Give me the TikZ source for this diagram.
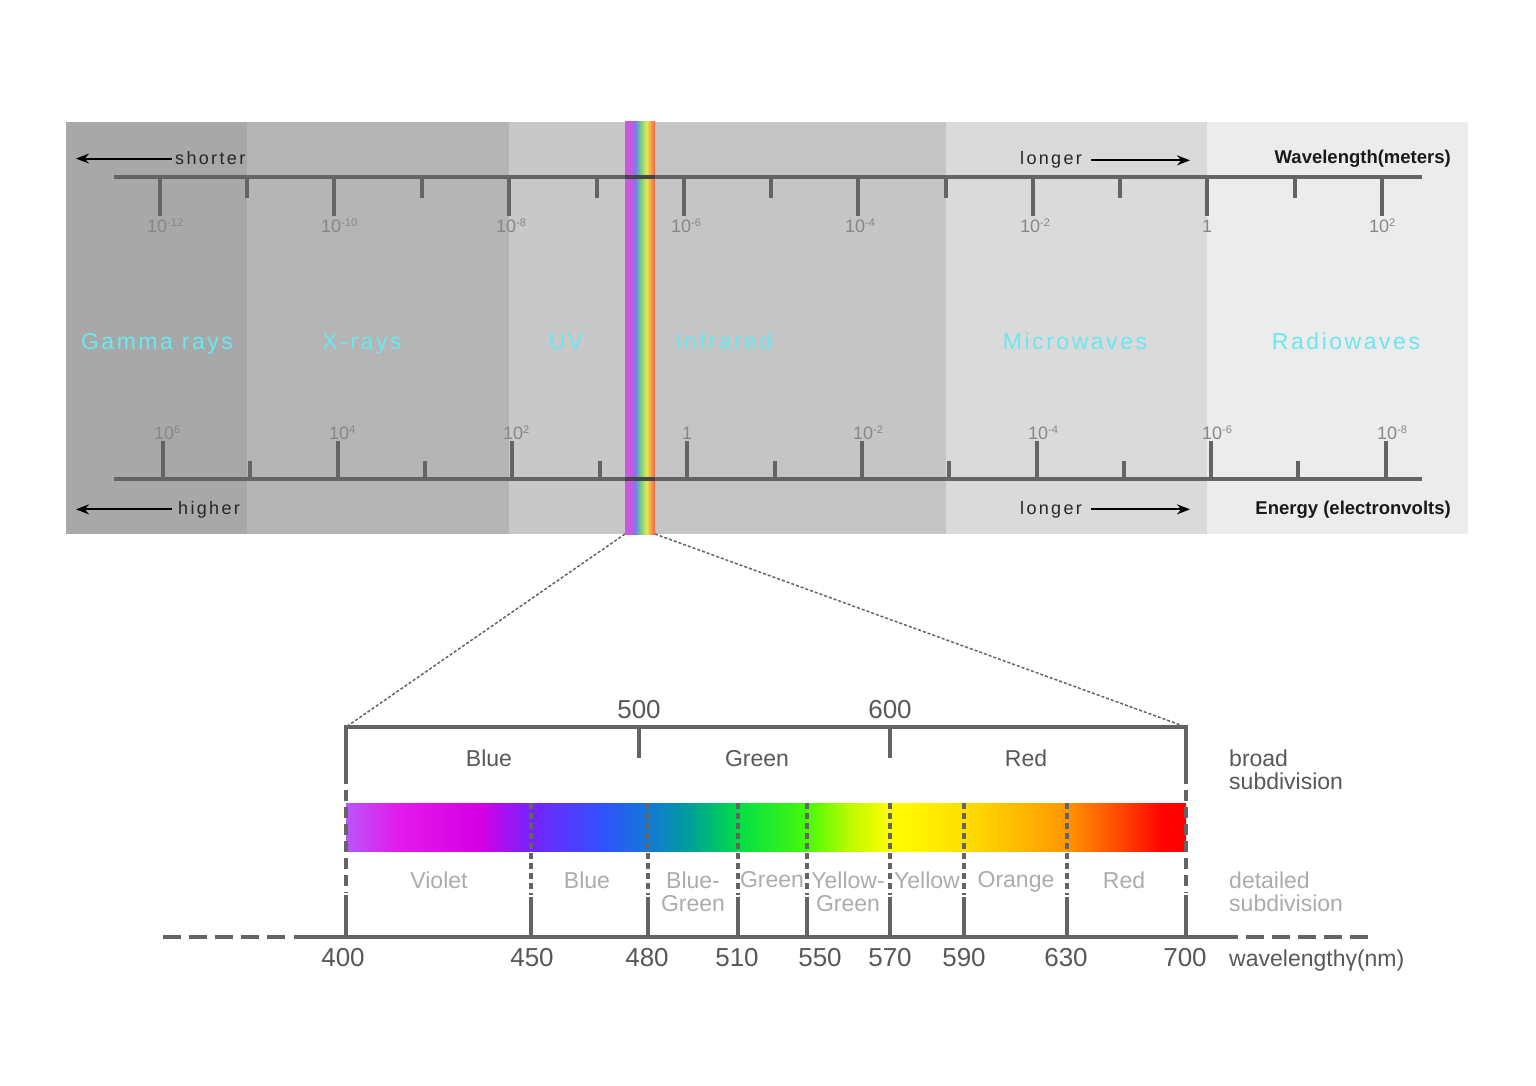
\documentclass[tikz,border=0pt]{standalone}
\usepackage{fontspec}
\setmainfont{Liberation Sans}
\usetikzlibrary{arrows.meta,positioning}
\usepackage{xcolor}
\definecolor{axisgray}{RGB}{100,100,100}
\definecolor{labgray}{RGB}{135,135,135}
\definecolor{textgray}{RGB}{88,88,88}
\definecolor{lightgray}{RGB}{172,172,172}
\definecolor{bandcyan}{RGB}{105,232,240}
\definecolor{gammabg}{RGB}{168,168,168}
\definecolor{xraybg}{RGB}{181,181,181}
\definecolor{uvbg}{RGB}{200,200,200}
\definecolor{irbg}{RGB}{197,197,197}
\definecolor{microbg}{RGB}{218,218,218}
\definecolor{radiobg}{RGB}{236,236,236}
\definecolor{rs1}{RGB}{200,88,225}
\definecolor{rs2}{RGB}{110,130,235}
\definecolor{rs3}{RGB}{120,215,120}
\definecolor{rs4}{RGB}{232,230,85}
\definecolor{rs5}{RGB}{240,160,72}
\definecolor{rs6}{RGB}{235,100,80}
\definecolor{sp1}{RGB}{185,85,250}
\definecolor{sp2}{RGB}{228,25,235}
\definecolor{sp3}{RGB}{212,0,228}
\definecolor{sp4}{RGB}{118,35,250}
\definecolor{sp5}{RGB}{50,80,255}
\definecolor{sp6}{RGB}{20,120,215}
\definecolor{sp7}{RGB}{0,160,150}
\definecolor{sp8}{RGB}{0,222,70}
\definecolor{sp9}{RGB}{70,250,10}
\definecolor{sp10}{RGB}{190,250,0}
\definecolor{sp11}{RGB}{255,255,0}
\definecolor{sp12}{RGB}{255,222,0}
\definecolor{sp13}{RGB}{255,185,0}
\definecolor{sp14}{RGB}{255,150,0}
\definecolor{sp15}{RGB}{255,70,0}
\definecolor{sp16}{RGB}{255,5,0}
\definecolor{sp17}{RGB}{255,0,0}
\pgfdeclarehorizontalshading{rainbowstrip}{100bp}{color(0bp)=(rs1); color(25bp)=(rs1); color(35bp)=(rs1); color(43bp)=(rs2); color(52bp)=(rs3); color(61bp)=(rs4); color(68bp)=(rs5); color(75bp)=(rs6); color(100bp)=(rs6)}
\pgfdeclarehorizontalshading{spectrum}{100bp}{color(0bp)=(sp1); color(25bp)=(sp1); color(28.2bp)=(sp2); color(33bp)=(sp3); color(36bp)=(sp4); color(40.1bp)=(sp5); color(43bp)=(sp6); color(45.5bp)=(sp7); color(48.3bp)=(sp8); color(52.4bp)=(sp9); color(55bp)=(sp10); color(57.4bp)=(sp11); color(61.8bp)=(sp12); color(65.1bp)=(sp13); color(67.9bp)=(sp14); color(71.1bp)=(sp15); color(73.5bp)=(sp16); color(75bp)=(sp17); color(100bp)=(sp17)}
\newcommand{\fsz}[1]{\fontsize{#1}{#1}\selectfont}
\newcommand{\tenpow}[1]{10\raisebox{6pt}{\fsz{11}#1}}

\begin{document}
\begin{tikzpicture}[x=1pt,y=-1pt]
	\tikzset{
		axis_line/.style={draw=axisgray, line width=4pt},
		edge_axis/.style={draw=axisgray, line width=4.5pt},
		tick_label/.style={text=labgray, inner sep=0pt, font=\fsz{18}},
		band_label/.style={text=bandcyan, inner sep=0pt, font=\fsz{23}\addfontfeatures{LetterSpace=11}},
		dir_label/.style={text=black!85, inner sep=0pt, font=\fsz{18}\addfontfeatures{LetterSpace=13}},
		dir_arrow/.style={draw=black, line width=2pt, -{Stealth[length=13pt,width=10pt]}},
		unit_label/.style={text=black!90, inner sep=0pt, font=\bfseries\fsz{18.5}},
		broad_label/.style={text=textgray, inner sep=0pt, font=\fsz{23}},
		detail_label/.style={text=lightgray, inner sep=0pt, font=\fsz{23}, align=center},
		nm_label/.style={text=textgray, inner sep=0pt, font=\fsz{26}},
		zoom_line/.style={draw=axisgray, line width=1.5pt, dash pattern=on 3pt off 2pt},
		edge_dash/.style={draw=axisgray, line width=4.5pt, dash pattern=on 11pt off 6pt},
		sub_dash/.style={draw=axisgray, line width=3.5pt, dash pattern=on 6pt off 4pt},
		end_dash/.style={draw=axisgray, line width=4.5pt, dash pattern=on 18pt off 8pt}
	}
	\useasboundingbox[fill=white] (0,0) rectangle (1536,1086);

	\fill[gammabg] (66,122) rectangle (247,534);
	\fill[xraybg] (247,122) rectangle (509,534);
	\fill[uvbg] (509,122) rectangle (625,534);
	\fill[irbg] (655,122) rectangle (946,534);
	\fill[microbg] (946,122) rectangle (1207,534);
	\fill[radiobg] (1207,122) rectangle (1468,534);
	\shade[shading=rainbowstrip] (625,122) rectangle (655,534);
	\coordinate (strip_bl) at (625,534);
	\coordinate (strip_br) at (655,534);

	\draw[axis_line] (114,177) -- (1422,177);
	\foreach \x/\e in {160/-12, 334/-10, 509/-8, 684/-6, 858/-4, 1033/-2, 1382/2}{
		\draw[axis_line] (\x,177) -- (\x,216);
		\node[tick_label, anchor=base west] (wl\x) at (\x-13,233) {\tenpow{\e}};
	}
	\draw[axis_line] (1207,177) -- (1207,216);
	\node[tick_label, anchor=base] (wl1207) at (1207,233) {1};
	\foreach \x in {247,422,597,771,946,1120,1295}
		\draw[axis_line] (\x,177) -- (\x,198);

	\draw[axis_line] (114,479) -- (1422,479);
	\foreach \x/\e in {163/6, 338/4, 512/2, 862/-2, 1037/-4, 1211/-6, 1386/-8}{
		\draw[axis_line] (\x,479) -- (\x,441);
		\node[tick_label, anchor=base west] (en\x) at (\x-9,439) {\tenpow{\e}};
	}
	\draw[axis_line] (687,479) -- (687,441);
	\node[tick_label, anchor=base] (en687) at (687,439) {1};
	\foreach \x in {250,425,600,775,949,1124,1298}
		\draw[axis_line] (\x,479) -- (\x,461);
	\foreach \y in {177,479}
		\fill[black, opacity=0.3] (625,\y-2) rectangle (655,\y+2);

	\node[band_label, anchor=base] (gamma) at (157,349) {Gamma rays};
	\node[band_label, anchor=base] (xray) at (362,349) {X-rays};
	\node[band_label, anchor=base] (uv) at (566,349) {UV};
	\node[band_label, anchor=base] (infrared) at (724,349) {Infrared};
	\node[band_label, anchor=base] (micro) at (1075,349) {Microwaves};
	\node[band_label, anchor=base] (radio) at (1346,349) {Radiowaves};

	\node[dir_label, anchor=base west] (shorter_lab) at (175,165) {shorter};
	\coordinate[left=3pt of shorter_lab] (shorter_start);
	\coordinate (shorter_tip) at (76,159);
	\draw[dir_arrow] (shorter_start) -- (shorter_start -| shorter_tip);
	\node[dir_label, anchor=base west] (wlonger_lab) at (1020,165) {longer};
	\coordinate[right=9pt of wlonger_lab] (wlonger_start);
	\coordinate (wlonger_tip) at (1190,159);
	\draw[dir_arrow] (wlonger_start) -- (wlonger_start -| wlonger_tip);
	\node[unit_label, anchor=base east] (wl_unit) at (1451,164) {Wavelength(meters)};

	\node[dir_label, anchor=base west] (higher_lab) at (178,514) {higher};
	\coordinate[left=6pt of higher_lab] (higher_start);
	\coordinate (higher_tip) at (76,508);
	\draw[dir_arrow] (higher_start) -- (higher_start -| higher_tip);
	\node[dir_label, anchor=base west] (elonger_lab) at (1020,514) {longer};
	\coordinate[right=9pt of elonger_lab] (elonger_start);
	\coordinate (elonger_tip) at (1190,508);
	\draw[dir_arrow] (elonger_start) -- (elonger_start -| elonger_tip);
	\node[unit_label, anchor=base east] (en_unit) at (1451,514) {Energy (electronvolts)};

	\shade[shading=spectrum] (346,803) rectangle (1186,851);
	\coordinate (bar_tl) at (346,727);
	\coordinate (bar_tr) at (1186,727);
	\draw[zoom_line] (strip_bl) -- (bar_tl);
	\draw[zoom_line] (strip_br) -- (bar_tr);

	\draw[edge_axis, line join=miter] (346,773) -- (bar_tl) -- (bar_tr) -- (1186,773);
	\foreach \x in {346,1186}{
		\draw[edge_dash] (\x,773) -- (\x,893);
		\draw[edge_axis] (\x,895) -- (\x,937);
	}
	\draw[edge_axis] (639,727) -- (639,758);
	\draw[edge_axis] (890,727) -- (890,758);
	\node[nm_label, anchor=base] (nm500) at (639,718) {500};
	\node[nm_label, anchor=base] (nm600) at (890,718) {600};
	\foreach \x in {531,648,738,807,890,964,1067}{
		\draw[sub_dash] (\x,803) -- (\x,895);
		\draw[edge_axis] (\x,897) -- (\x,937);
	}

	\node[broad_label, anchor=base] (broad_blue) at (489,766) {Blue};
	\node[broad_label, anchor=base] (broad_green) at (757,766) {Green};
	\node[broad_label, anchor=base] (broad_red) at (1026,766) {Red};

	\foreach \x/\t in {439/Violet, 587/Blue, 693/{Blue-\\Green}, 772/Green, 848/{Yellow-\\Green}, 927/Yellow, 1016/Orange, 1124/Red}
		\node[detail_label, anchor=north] (det\x) at (\x,871.5) {\t};

	\draw[edge_axis] (294,937) -- (1238,937);
	\draw[end_dash] (163,937) -- (290,937);
	\draw[end_dash] (1246,937) -- (1372,937);
	\foreach \x/\n in {343/400, 532/450, 647/480, 737/510, 820/550, 890/570, 964/590, 1066/630, 1185/700}
		\node[nm_label, anchor=base] (nm\n) at (\x,966) {\n};

	\node[broad_label, anchor=north west, align=left] (broad_sub) at (1229,749.5) {broad\\subdivision};
	\node[detail_label, anchor=north west, align=left] (detail_sub) at (1229,871.5) {detailed\\subdivision};
	\node[broad_label, anchor=base west] (wl_nm) at (1229,966) {wavelengthγ(nm)};
\end{tikzpicture}
\end{document}
